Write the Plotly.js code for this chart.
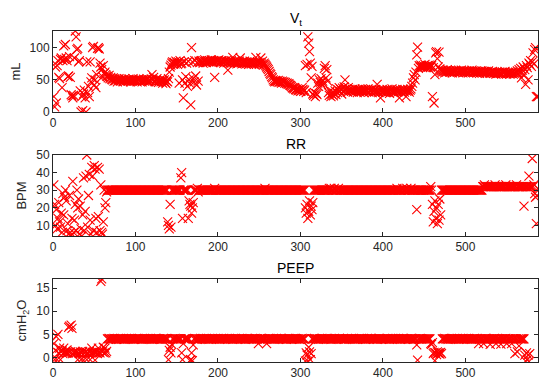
<!DOCTYPE html>
<html>
<head>
<meta charset="utf-8">
<script src="https://cdn.plot.ly/plotly-3.0.1.min.js"></script>
<style>html,body{margin:0;padding:0;background:#fff;}#chart{width:539px;height:386px;}</style>
</head>
<body>
<div id="chart"></div>
<script>
// Tidal volume (mL), one value per sample index 1..588
const vt = [
24,8,70,14,72,80,54,52,82,84,
38,80,103,82,105,84,80,55,56,86,
54,27,25,22,26,84,126,117,97,99,
78,80,33,0,24,2,28,34,22,0,
78,30,40,24,78,47,53,100,102,42,
50,38,58,99,100,98,76,70,66,55,
72,60,62,58,56,55,53,57,52,54,
51,50,53,48,52,49,51,47,50,52,
49,48,51,50,47,49,52,48,50,49,
48,51,49,47,50,48,52,49,48,50,
49,47,50,51,48,49,50,47,49,51,
48,50,49,52,48,47,50,49,51,58,
50,54,48,47,49,52,48,46,49,50,
47,49,45,48,50,46,44,48,47,52,
62,70,73,76,78,74,77,75,79,76,
74,78,45,80,75,76,50,22,78,45,
55,76,40,79,50,44,11,100,78,52,
47,80,56,42,77,48,79,77,79,80,
78,76,79,81,78,77,80,79,78,80,
78,81,79,77,80,54,79,78,80,79,
81,78,77,80,79,78,76,79,78,80,
77,65,79,78,76,80,77,85,78,76,
79,77,75,78,76,79,84,77,75,78,
76,79,77,75,78,76,74,77,79,76,
75,78,76,74,77,85,75,78,76,74,
77,84,75,79,73,76,74,72,70,68,
66,63,60,58,55,53,50,48,47,49,
48,47,49,46,48,47,45,48,46,47,
45,46,44,45,43,44,42,41,40,38,
37,36,38,35,34,36,33,35,34,32,
33,38,35,32,34,72,30,74,117,107,
94,76,53,71,28,26,30,24,29,27,
45,40,50,46,52,42,48,44,68,72,
53,66,48,30,26,33,24,28,31,25,
29,33,27,36,30,34,38,32,35,28,
37,33,39,50,34,36,31,38,35,33,
34,32,35,31,33,36,32,34,30,33,
35,31,34,32,36,33,30,34,35,32,
33,36,31,34,32,35,30,33,34,31,
35,32,43,33,30,34,22,32,35,31,
33,34,30,32,35,31,33,29,34,32,
36,31,33,30,34,32,35,31,33,22,
34,32,30,35,33,31,34,24,32,35,
33,31,34,36,40,45,53,58,50,62,
89,101,68,72,70,73,71,69,72,70,
74,71,69,72,70,73,71,70,72,24,
69,14,58,92,94,83,70,93,67,65,
64,62,65,63,61,64,62,66,63,64,
62,65,63,61,64,63,62,65,64,62,
63,61,64,62,65,63,61,64,62,63,
64,62,63,61,64,62,63,65,62,61,
63,62,64,61,63,62,60,63,62,64,
61,63,62,60,63,61,62,64,61,60,
62,61,63,60,62,61,59,62,60,61,
62,60,61,59,62,60,61,63,60,59,
61,60,62,59,61,60,62,59,61,60,
62,61,64,60,66,62,68,53,65,70,
58,66,43,72,69,50,76,74,80,71,
78,92,75,97,100,24,24,24
];

// Respiratory rate (BPM)
const rr = [
33,22,10,19,8,14,23,12,9,17,
6,28,16,26,30,24,7,11,5,27,
6,4,14,35,6,13,22,7,30,20,
25,5,21,8,4,16,37,7,18,38,
50,9,27,39,13,5,43,38,7,44,
42,14,6,43,15,42,7,33,6,5,
12,30,20,23,29,30,30,30,30,30,
30,30,30,30,30,30,30,30,30,30,
30,30,30,30,30,30,30,30,30,30,
30,30,30,30,30,30,30,30,30,30,
30,30,30,30,30,30,30,30,30,30,
30,30,30,30,30,30,30,30,30,30,
30,30,30,30,30,30,30,30,30,30,
30,30,30,30,30,30,30,30,12,10,
8,22,9,30,30,30,30,30,30,30,
30,30,30,30,37,40,14,30,30,30,
30,30,30,14,24,22,21,17,20,23,
30,30,30,30,31,29,30,30,30,30,
30,30,30,30,30,30,30,30,30,30,
30,30,30,30,30,31,30,30,30,30,
30,30,30,30,30,30,30,30,30,30,
30,30,30,30,30,30,30,30,30,30,
30,30,30,30,30,30,30,30,30,30,
30,30,30,30,30,30,30,30,30,30,
30,30,30,30,30,30,30,30,30,30,
30,30,30,30,30,30,31,30,30,30,
30,30,30,30,30,30,30,30,30,30,
30,30,30,30,30,30,30,30,30,30,
30,30,30,30,30,30,30,30,30,30,
30,30,30,30,30,30,30,30,30,30,
30,30,30,30,30,20,17,22,14,18,
24,16,21,19,23,30,30,30,30,30,
30,30,30,30,30,30,30,30,30,30,
30,30,30,30,31,30,31,30,30,30,
31,30,30,30,30,31,30,30,30,30,
30,30,30,30,30,30,30,30,30,30,
30,30,30,30,30,30,30,30,30,30,
30,30,30,30,30,30,30,30,30,30,
30,30,30,30,30,30,30,30,30,30,
30,30,30,30,30,30,30,30,30,30,
30,30,30,30,30,30,30,30,30,30,
30,30,30,30,30,30,31,30,30,30,
30,30,30,31,30,30,30,30,31,30,
30,30,30,31,30,30,30,30,30,30,
19,30,30,30,30,30,30,30,30,30,
30,30,30,30,30,30,30,32,30,22,
12,18,24,14,20,11,22,13,25,16,
30,30,30,30,30,30,30,30,30,30,
30,30,30,30,30,30,30,30,30,30,
30,30,30,30,30,30,30,30,30,30,
30,30,30,30,30,30,30,30,30,30,
30,30,30,30,30,30,30,30,30,30,
32,32,33,32,32,32,32,32,32,32,
32,32,32,32,32,33,32,32,32,32,
32,32,32,32,32,32,32,32,33,32,
32,32,32,32,32,32,32,32,32,32,
32,33,32,32,32,32,32,32,32,32,
21,32,32,32,32,32,38,32,32,32,
48,32,33,28,26,11,27,31
];

// PEEP (cmH2O)
const peep = [
3,-0.5,1.5,4.5,-0.5,5,1,2,-0.5,1.2,
1.5,0.8,2,1,1.3,0.9,1.6,1,6.5,6.8,
1.2,7,6.3,0.8,1.1,1,1.3,0.9,1.2,-0.5,
1,0.8,1.2,-0.5,1,1.3,-0.6,0.9,1.1,1.2,
-0.5,1,0.8,1.3,-0.5,1,2,1.1,0.9,1.2,
-0.6,1,1.3,0.8,2,1.1,1,16.5,17,1.2,
2.2,1,2,1,1.3,4,4,4.1,4,3.9,
4,4,4,4.1,4,4,3.9,4,4,4,
4,4.1,4,4,4,3.9,4,4,4.1,4,
4,4,4,4,4.1,4,4,3.9,4,4,
4,4,4.1,4,4,4,4,3.9,4,4,
4.1,4,4,4,4,4,4,4.1,4,3.9,
4,4,4,4,4.1,4,4,4,4,4,
3.9,4,4,4.1,4,4,4,4,4,-0.5,
1.5,2.2,1,2.8,4,4,4,4.1,4,4,
4,4,4,4,4,1,-0.5,3,4,4,
4,4,4,4,4,-0.7,-0.5,1,-0.7,2.7,
4,4.1,4,4,3.9,4,4,4,4.1,4,
4,4,4,4,4,4.1,4,4,3.9,4,
4,4,4.1,4,4,4,4,4,4,4.1,
4,3.9,4,4,4,4,4.1,4,4,4,
4,4,4,4.1,4,4,4,3.9,4,4,
4.1,4,4,4,4,4,4,4,4.1,4,
4,4,3.9,4,4,4.1,4,4,4,4,
4,4,4,4,4.1,4,4,4,3,4,
4,4.1,4,4,3.9,4,4,4,3,4,
4,4,4.1,4,4,4,4,3.9,4,4,
4.1,4,4,4,4,4,4.1,4,4,4,
4,4,3.9,4,4,4.1,4,4,4,4,
4,4,4,4.1,4,4,4,4,3.9,4,
4,4.1,4,4,4,-0.8,1,0.5,-0.8,2.2,
1.2,-0.5,0.8,4,4,4,4.1,4,4,4,
4,3.9,4,4,4,4.1,4,4,4,4,
4,4,4.1,4,4,4,3.9,4,4,4,
4.1,4,4,4,4,4,4.1,4,4,4,
4,4,3.9,4,4,4,4.1,4,4,4,
4,4.1,4,4,4,3.9,4,4,4,4,
4,4,4,4.1,4,4,4,4,3.9,4,
4.1,4,4,4,4,4.1,4,4,4,4,
4,4,3.9,4,4.1,4,4,4,4,4,
4,4,4,4,4,4.1,4,3.9,4,4,
4,4.1,4,4,4,4,4,4,4.1,4,
3.9,4,4,4,4.1,4,4,4,4,4,
4,4,4,4.1,4,4,3.9,4,4,4,
2.7,-0.6,4,4,4.1,4,4,4,4,4,
4,4,4,4,4,4,4,3,2.8,3.2,
0.8,1.1,-0.7,1,0.6,1.2,0.9,1,0.7,1.1,
0.8,4,4,4,4.1,4,4,4,3.9,4,
4,4,4.1,4,4,4,4,4,4,4.1,
4,3.9,4,4,4,4,4.1,4,4,4,
4,4,4,4.1,4,4,3.9,4,4,4,
4.1,4,4,4,4,3,4,4,4,4,
4,3,4,4.1,4,4,4,4,4,2.8,
4,4,4,4,4.1,4,3,4,4,4,
4,4,2.9,4,4,4,4,4,4.1,3,
4,4,4,4,4,3,4,4,4,0.8,
4,4,1.2,4,2.5,4,4,4,4,4,
4,0.5,-0.8,1,-0.5,0.5,-0.9,0.8
];

const xTicks = [0, 100, 200, 300, 400, 500];
const titles = ['V<sub>t</sub>', 'RR', 'PEEP'];
const yLabels = ['mL', 'BPM', 'cmH<sub>2</sub>O'];

const idx = vt.map((_, i) => i + 1);
const red = '#ff0000';
function tr(y, xa, ya) {
  return {x: idx, y: y, xaxis: xa, yaxis: ya, type: 'scatter', mode: 'markers',
    marker: {symbol: 'x-thin-open', size: 9, color: red, line: {color: red, width: 1.1}},
    hoverinfo: 'skip', cliponaxis: true};
}
const data = [tr(vt, 'x', 'y'), tr(rr, 'x2', 'y2'), tr(peep, 'x3', 'y3')];

const fam = 'Liberation Sans, Arial, sans-serif';
const tickFont = {family: fam, size: 12, color: '#262626'};
function xax(anchor) {
  return {anchor: anchor, domain: [0, 1], range: [0, 588], tickvals: xTicks,
    ticks: 'inside', ticklen: 4, tickcolor: '#262626', mirror: 'ticks', showline: true,
    linecolor: '#262626', linewidth: 1, showgrid: false, zeroline: false, tickfont: tickFont};
}
function yax(anchor, dom, rng, tv, label) {
  return {anchor: anchor, domain: dom, range: rng, tickvals: tv,
    ticks: 'inside', ticklen: 4, tickcolor: '#262626', mirror: 'ticks', showline: true,
    linecolor: '#262626', linewidth: 1, showgrid: false, zeroline: false, tickfont: tickFont,
    title: {text: label, font: {family: fam, size: 13, color: '#262626'}, standoff: 6}};
}
const doms = [[0.7553, 1], [0.3807, 0.6254], [0, 0.2508]];
const layout = {
  width: 539, height: 386,
  margin: {l: 53, r: 1, t: 31, b: 24},
  paper_bgcolor: '#ffffff', plot_bgcolor: '#ffffff',
  showlegend: false,
  xaxis: xax('y'), xaxis2: xax('y2'), xaxis3: xax('y3'),
  yaxis: yax('x', doms[0], [0, 126], [0, 50, 100], yLabels[0]),
  yaxis2: yax('x2', doms[1], [4, 50], [10, 20, 30, 40, 50], yLabels[1]),
  yaxis3: yax('x3', doms[2], [-1, 17], [0, 5, 10, 15], yLabels[2]),
  annotations: titles.map((t, i) => ({text: t, xref: 'paper', yref: 'paper', x: 0.5, y: doms[i][1],
    xanchor: 'center', yanchor: 'bottom', yshift: 1, showarrow: false,
    font: {family: fam, size: 14, color: '#000'}}))
};
Plotly.newPlot('chart', data, layout, {staticPlot: true, displayModeBar: false});
</script>
</body>
</html>
